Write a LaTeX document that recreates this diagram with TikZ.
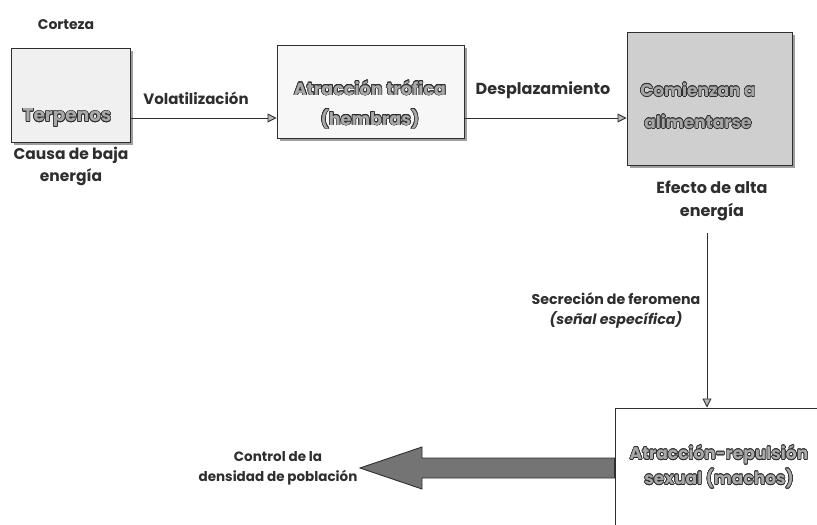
\documentclass[tikz,border=0pt]{standalone}
\usepackage{fontspec}
\setmainfont{Poppins}
\usepackage{contour}
\contourlength{0.6pt}
\usetikzlibrary{arrows.meta,shadows,calc}
\definecolor{ink}{HTML}{2E2E2E}
\definecolor{boxtext}{HTML}{A8A8A8}
\tikzset{
  box/.style={draw=ink, line width=1pt, inner sep=0pt,
    drop shadow={shadow xshift=2.5pt, shadow yshift=-2.5pt, fill=gray!75, opacity=1}},
  plainbox/.style={draw=ink, line width=1pt, inner sep=0pt, fill=white},
  lbl/.style={text=ink, font=\bfseries\fontsize{12.5}{22}\selectfont, align=center, inner sep=0pt},
  boxtxt/.style={text=boxtext, align=center, inner sep=0pt},
  conn/.style={draw=ink, line width=0.9pt, -{Triangle[length=9pt,width=9pt,fill=gray!55]}},
  bigarrow/.style={draw=ink, line width=0.9pt, fill=gray!55!black!75},
}
\newcommand{\ctext}[1]{\contour{ink}{#1}}
\begin{document}
\begin{tikzpicture}[x=1pt,y=-1pt]
\fill[white] (0,0) rectangle (817,525);
\useasboundingbox (0,0) rectangle (817,525);
% boxes
\node[box, fill=gray!12, minimum width=119pt, minimum height=94pt] (terp) at (70.5,95) {};
\node[box, fill=gray!6, minimum width=187pt, minimum height=93pt] (tro) at (370.5,91.5) {};
\node[box, fill=gray!38, minimum width=165pt, minimum height=133pt] (com) at (709.5,98.5) {};
\node[plainbox, minimum width=215pt, minimum height=132pt] (bot) at (722.5,474) {};
% box texts
\node[boxtxt, font=\bfseries\fontsize{18.5}{20}\selectfont] (terpt) at (67,118) {\ctext{Terpenos}};
\node[boxtxt, font=\bfseries\fontsize{17.5}{30}\selectfont] (trot) at (370,105) {\ctext{Atracción trófica}\\\ctext{(hembras)}};
\node[boxtxt, font=\bfseries\fontsize{17}{32}\selectfont, text=gray!70] (comt) at (698,106) {\ctext{Comienzan a}\\\ctext{alimentarse}};
\node[boxtxt, font=\bfseries\fontsize{17}{25}\selectfont] (bott) at (719,467) {\ctext{Atracción-repulsión}\\\ctext{sexual (machos)}};
% outside labels
\node[lbl, font=\bfseries\fontsize{14}{22}\selectfont] (cort) at (66,25) {Corteza};
\node[lbl, font=\bfseries\fontsize{15.5}{22}\selectfont] (causa) at (71,166) {Causa de baja\\energía};
\node[lbl, font=\bfseries\fontsize{15}{22}\selectfont] (vol) at (196,98) {Volatilización};
\node[lbl, font=\bfseries\fontsize{16}{22}\selectfont] (desp) at (543,90) {Desplazamiento};
\node[lbl, font=\bfseries\fontsize{16}{23}\selectfont] (efe) at (712,201) {Efecto de alta\\energía};
\node[lbl, font=\bfseries\fontsize{14.2}{20}\selectfont] (secr) at (616,310) {Secreción de feromena\\\itshape (señal específica)};
\node[lbl, font=\bfseries\fontsize{13.5}{20}\selectfont] (ctrl) at (278,468) {Control de la\\densidad de población};
% connectors
\coordinate (ay) at (0,118);
\draw[conn] (terp.east |- ay) -- (tro.west |- ay);
\draw[conn] (tro.east |- ay) -- (com.west |- ay);
\coordinate (vs) at (707,233);
\draw[conn] (vs) -- (bot.north -| vs);
% big arrow
\coordinate (tipc) at (360,468);
\draw[bigarrow] (bot.west |- 0,458) -- (422,458) -- (422,447) -- (tipc) -- (422,489) -- (422,478) -- (bot.west |- 0,478) -- cycle;
\end{tikzpicture}
\end{document}
